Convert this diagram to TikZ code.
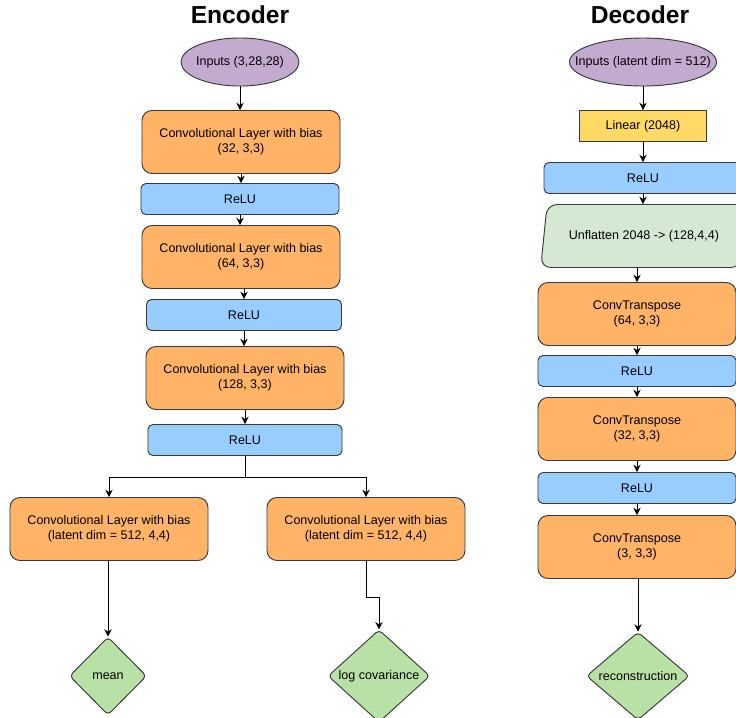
\documentclass[tikz,border=0pt]{standalone}
\usepackage{fontspec}
\setsansfont{Liberation Sans}
\usepackage{tikz}
\usetikzlibrary{arrows.meta, shapes.geometric}
\definecolor{layerOrange}{HTML}{FFB366}
\definecolor{reluBlue}{HTML}{99CCFF}
\definecolor{inputPurple}{HTML}{C3ABD0}
\definecolor{outGreen}{HTML}{B9E0A5}
\definecolor{flatGreen}{HTML}{D5E8D4}
\definecolor{linYellow}{HTML}{FFD966}
\definecolor{edgeGray}{HTML}{36393D}
\newcommand{\figArrow}{{Stealth[length=2.2mm, width=2.2mm]}}

\begin{document}
\begin{tikzpicture}[x=0.03cm, y=-0.03cm, font=\sffamily\fontsize{10.7}{13}\selectfont, line width=0.8pt,
	box/.style={draw=edgeGray, align=center},
	conv/.style={box, fill=layerOrange, rounded corners=0.3cm, minimum width=5.94cm, minimum height=1.89cm},
	relu/.style={box, fill=reluBlue, rounded corners=0.15cm, minimum width=5.94cm, minimum height=0.93cm},
	inputs/.style={box, ellipse, fill=inputPurple, inner xsep=-0.5cm, inner ysep=0pt, minimum height=1.44cm},
	result/.style={box, diamond, fill=outGreen, rounded corners=0.12cm, inner sep=0pt, minimum height=2.34cm},
	title/.style={font=\sffamily\bfseries\fontsize{21}{25}\selectfont}]
	\useasboundingbox (0,0) rectangle (736,717);

	\node[title] (enctitle) at (240,15) {Encoder};
	\node[inputs, minimum width=3.54cm] (encin) at (240,62) {Inputs (3,28,28)};
	\node[conv] (conv1) at (241,142) {Convolutional Layer with bias\\(32, 3,3)};
	\node[relu] (relu1) at (240,199) {ReLU};
	\node[conv] (conv2) at (241,257) {Convolutional Layer with bias\\(64, 3,3)};
	\node[relu, minimum width=5.85cm] (relu2) at (244,315) {ReLU};
	\node[conv] (conv3) at (245,378) {Convolutional Layer with bias\\(128, 3,3)};
	\node[relu, minimum width=5.82cm] (relu3) at (245,440) {ReLU};
	\node[conv] (convmu) at (109,529) {Convolutional Layer with bias\\(latent dim = 512, 4,4)};
	\node[conv] (convlv) at (366,529) {Convolutional Layer with bias\\(latent dim = 512, 4,4)};
	\node[result, minimum width=2.31cm] (mean) at (108,676) {mean};
	\node[result, minimum width=3.06cm] (logcov) at (379,676) {log covariance};
	\coordinate (split) at (245,477);
	\coordinate (lvbend) at (379,597);

	\draw[-\figArrow] (encin) -- (encin |- conv1.north);
	\draw[-\figArrow] (conv1) -- (conv1 |- relu1.north);
	\draw[-\figArrow] (relu1) -- (relu1 |- conv2.north);
	\draw[-\figArrow] (conv2.south -| relu2) -- (relu2.north);
	\draw[-\figArrow] (relu2) -- (relu2 |- conv3.north);
	\draw[-\figArrow] (conv3) -- (conv3 |- relu3.north);
	\draw (relu3.south) -- (split);
	\draw[-\figArrow] (split) -| (convmu.north);
	\draw[-\figArrow] (split) -| (convlv.north);
	\draw[-\figArrow] (convmu.south -| mean.north) -- (mean.north);
	\draw[-\figArrow] (convlv.south) |- (lvbend) -- (logcov.north);

	\node[title] (dectitle) at (640,15) {Decoder};
	\node[inputs, minimum width=4.41cm] (decin) at (643,62) {Inputs (latent dim = 512)};
	\node[box, fill=linYellow, minimum width=3.81cm, minimum height=0.93cm] (linear) at (643,126) {Linear (2048)};
	\node[relu] (drelu1) at (643,178) {ReLU};
	\node[box, fill=flatGreen, trapezium, trapezium left angle=75, trapezium right angle=105, trapezium stretches,
		rounded corners=0.3cm, minimum width=6.21cm, minimum height=1.89cm] (unflat) at (644,236) {Unflatten 2048 -> (128,4,4)};
	\node[conv] (dconv1) at (637,314) {ConvTranspose\\(64, 3,3)};
	\node[relu] (drelu2) at (637,371) {ReLU};
	\node[conv] (dconv2) at (637,429) {ConvTranspose\\(32, 3,3)};
	\node[relu] (drelu3) at (637,488) {ReLU};
	\node[conv] (dconv3) at (637,547) {ConvTranspose\\(3, 3,3)};
	\node[result, minimum width=3.09cm] (recon) at (638,676) {reconstruction};

	\draw[-\figArrow] (decin) -- (decin |- linear.north);
	\draw[-\figArrow] (linear) -- (linear |- drelu1.north);
	\draw[-\figArrow] (drelu1) -- (drelu1 |- unflat.north);
	\draw[-\figArrow] (dconv1 |- unflat.south) -- (dconv1.north);
	\draw[-\figArrow] (dconv1) -- (drelu2);
	\draw[-\figArrow] (drelu2) -- (dconv2);
	\draw[-\figArrow] (dconv2) -- (drelu3);
	\draw[-\figArrow] (drelu3) -- (dconv3);
	\draw[-\figArrow] (dconv3.south -| recon) -- (recon.north);
\end{tikzpicture}
\end{document}
